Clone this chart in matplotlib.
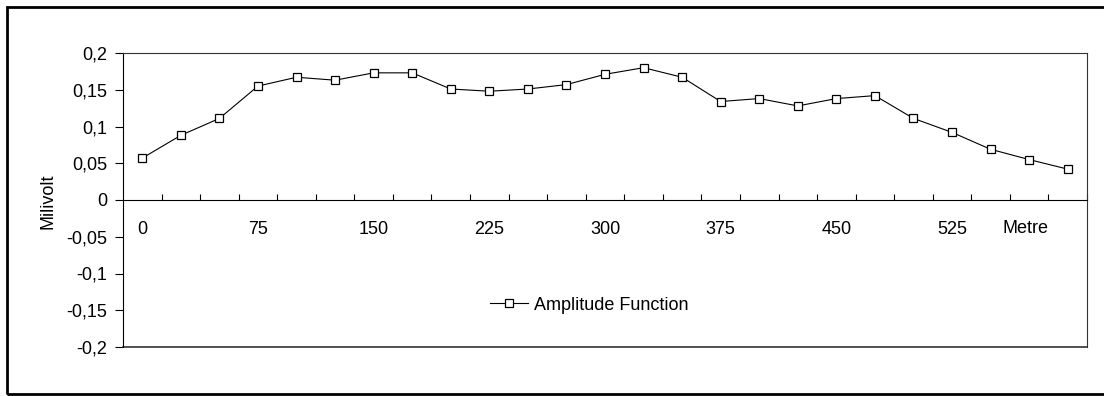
import matplotlib
matplotlib.use("Agg")
import matplotlib.pyplot as plt
from matplotlib.patches import Rectangle
from matplotlib.ticker import FixedLocator, FuncFormatter

plt.rcParams['font.family'] = ['Liberation Sans', 'DejaVu Sans']

# Data
metres = [0, 25, 50, 75, 100, 125, 150, 175, 200, 225, 250, 275, 300,
          325, 350, 375, 400, 425, 450, 475, 500, 525, 550, 575, 600]
amplitude = [0.057, 0.088, 0.111, 0.155, 0.167, 0.163, 0.173, 0.173, 0.151,
             0.148, 0.151, 0.157, 0.171, 0.180, 0.167, 0.134, 0.138, 0.128,
             0.138, 0.142, 0.111, 0.092, 0.069, 0.055, 0.042]
series_name = "Amplitude Function"
y_label = "Milivolt"
x_unit = "Metre"
y_ticks = [-0.2, -0.15, -0.1, -0.05, 0, 0.05, 0.1, 0.15, 0.2]
label_every = 3

W, H = 1104, 396
fig = plt.figure(figsize=(W / 100, H / 100), dpi=100)
fig.patch.set_facecolor('white')

left, right, top, bottom = 123, 1087, 53, 347
ax = fig.add_axes([left / W, 1 - bottom / H, (right - left) / W, (bottom - top) / H])

idx = list(range(len(metres)))
ax.plot(idx, amplitude, color='black', lw=0.8, marker='s', markersize=6.2,
        markerfacecolor='white', markeredgecolor='black', markeredgewidth=0.9,
        label=series_name, zorder=3)

ax.set_xlim(-0.5, len(metres) - 0.5)
ax.set_ylim(-0.2, 0.2)

# y axis
ax.yaxis.set_major_locator(FixedLocator(y_ticks))
def fmt(v, pos):
    if abs(v) < 1e-9:
        return "0"
    s = ("%.2f" % v).rstrip('0').rstrip('.')
    return s.replace('.', ',')
ax.yaxis.set_major_formatter(FuncFormatter(fmt))
ax.tick_params(axis='y', direction='out', length=6, width=0.8, pad=5.5,
               labelsize=13, colors='black')

# x axis at zero
ax.spines['bottom'].set_position(('data', 0))
ax.spines['bottom'].set_color('black')
ax.spines['bottom'].set_linewidth(0.8)
ax.spines['left'].set_color('black')
ax.spines['left'].set_linewidth(0.8)
for s in ('top', 'right'):
    ax.spines[s].set_color('#333333')
    ax.spines[s].set_linewidth(0.8)
ax.axhline(-0.2, color='#333333', lw=1.2, clip_on=False, zorder=2)

boundaries = [i + 0.5 for i in idx[:-1]] + [len(metres) - 0.5]
ax.xaxis.set_major_locator(FixedLocator(boundaries))
ax.xaxis.set_major_formatter(FuncFormatter(lambda v, p: ""))
ax.tick_params(axis='x', which='major', direction='in', length=4, width=0.8,
               colors='black')
label_pos = [i for i in idx if i % label_every == 0 and i < len(metres) - 1]
ax.set_xticks(label_pos, minor=True)
ax.set_xticklabels([str(metres[i]) for i in label_pos], minor=True)
ax.tick_params(axis='x', which='minor', length=0, pad=15, labelsize=13)
ax.text(22.9, -0.0385, x_unit, ha='center', va='center', fontsize=13)

fig.text(48 / W, 1 - 201 / H, y_label, rotation=90, ha='center', va='center',
         fontsize=13)

leg = fig.legend(loc='center left', bbox_to_anchor=(490 / W, 1 - 305 / H),
                 frameon=False, fontsize=13, borderpad=0, borderaxespad=0,
                 handlelength=2.1, handletextpad=0.35)

# outer chart border
fig.patches.append(Rectangle((6.5 / W, 1 - 394 / H), 1.2, (394 - 6.5) / H,
                             transform=fig.transFigure, fill=False,
                             edgecolor='black', lw=2.0))

fig.savefig('out.png', dpi=100, facecolor='white')
